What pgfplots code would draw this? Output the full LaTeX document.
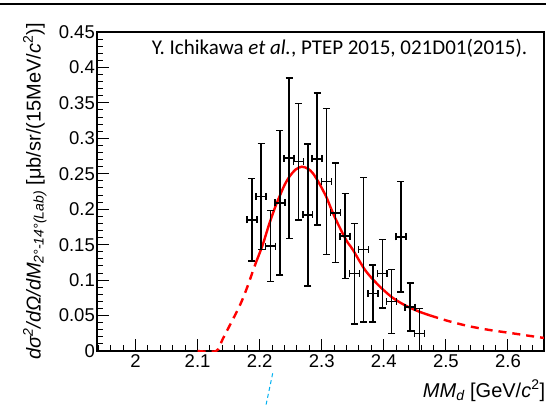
\documentclass[border=0pt]{standalone}
\usepackage{fontspec}
\setmainfont{Liberation Sans}
\newfontfamily\calibri{Carlito}
\usepackage{pgfplots}
\usepackage{pgfplotstable}
\pgfplotsset{compat=1.18}
\pgfplotstableread{
x       y      ex      ey
2.1875  0.185  0.008  0.058
2.2025  0.218  0.008  0.075
2.2175  0.148  0.008  0.050
2.2325  0.209  0.008  0.102
2.2475  0.272  0.008  0.113
2.2625  0.267  0.008  0.082
2.2775  0.192  0.008  0.100
2.2925  0.271  0.008  0.093
2.3075  0.239  0.008  0.103
2.3225  0.195  0.008  0.070
2.3375  0.162  0.008  0.060
2.3525  0.109  0.008  0.071
2.3675  0.143  0.008  0.102
2.3825  0.081  0.008  0.040
2.3975  0.109  0.008  0.048
2.4125  0.070  0.008  0.045
2.4275  0.161  0.008  0.078
2.4425  0.062  0.008  0.034
2.4575  0.025  0.008  0.035
}\datatable
\begin{document}
\begin{tikzpicture}
\path[use as bounding box] (-97pt,-54pt) rectangle (449pt,351pt);
\begin{axis}[
  at={(0,0)}, anchor=south west, scale only axis,
  width=447pt, height=319pt,
  xmin=1.938, xmax=2.658, ymin=0, ymax=0.45,
  axis line style={line width=1.1pt},
  xtick={2,2.1,2.2,2.3,2.4,2.5,2.6},
  xticklabels={2,2.1,2.2,2.3,2.4,2.5,2.6},
  ytick={0,0.05,0.1,0.15,0.2,0.25,0.3,0.35,0.4,0.45},
  yticklabels={0,0.05,0.1,0.15,0.2,0.25,0.3,0.35,0.4,0.45},
  minor xtick={1.94,1.96,1.98,2.02,2.04,2.06,2.08,2.12,2.14,2.16,2.18,2.22,2.24,2.26,2.28,2.32,2.34,2.36,2.38,2.42,2.44,2.46,2.48,2.52,2.54,2.56,2.58,2.62,2.64},
  minor ytick={0.01,0.02,0.03,0.04,0.06,0.07,0.08,0.09,0.11,0.12,0.13,0.14,0.16,0.17,0.18,0.19,0.21,0.22,0.23,0.24,0.26,0.27,0.28,0.29,0.31,0.32,0.33,0.34,0.36,0.37,0.38,0.39,0.41,0.42,0.43,0.44},
  tick align=inside, xtick pos=lower, ytick pos=lower,
  major tick length=12pt, minor tick length=6pt,
  tick style={black, line width=1pt},
  ticklabel style={font=\fontsize{18.5}{20}\selectfont},
  yticklabel style={inner sep=0pt, xshift=-2pt},
  xticklabel style={inner sep=0pt, yshift=-3pt},
  ylabel={{\itshape dσ\textsuperscript{2}/dΩ/dM}\textsubscript{\itshape 2°-14°(Lab)} [μb/sr/(15MeV/{\itshape c}\textsuperscript{2})]},
  ylabel style={at={(axis description cs:-0.139,0.5)}, anchor=center, font=\fontsize{20}{22}\selectfont},
  xlabel={{\itshape MM}\textsubscript{\itshape d} [GeV/{\itshape c}\textsuperscript{2}]},
  xlabel style={at={(axis description cs:1.003,0)}, anchor=base east, yshift=-46pt, inner sep=0pt, font=\fontsize{20}{22}\selectfont},
]
\addplot[red, line width=2.4pt, dash pattern=on 8pt off 6pt, smooth] coordinates {
(2.100,0) (2.130,0) (2.140,0.016) (2.150,0.033) (2.160,0.050) (2.170,0.068) (2.180,0.090) (2.190,0.115) (2.195,0.127)};
\addplot[red, line width=2.4pt, smooth] coordinates {
(2.195,0.127) (2.205,0.150) (2.215,0.178) (2.225,0.203) (2.232,0.218) (2.240,0.234) (2.248,0.246) (2.258,0.256) (2.268,0.260) (2.278,0.257) (2.2855,0.251) (2.295,0.238) (2.307,0.218) (2.315,0.201) (2.323,0.185) (2.339,0.157) (2.350,0.143) (2.370,0.114) (2.390,0.094) (2.410,0.078) (2.425,0.069) (2.440,0.062) (2.457,0.0555) (2.475,0.050)};
\addplot[red, line width=2.4pt, dash pattern=on 8pt off 6pt, smooth] coordinates {
(2.475,0.050) (2.505,0.042) (2.537,0.035) (2.570,0.0297) (2.607,0.025) (2.645,0.020) (2.658,0.0185)};
\addplot+[black, mark=-, mark size=0.5pt, only marks,
  mark options={black, line width=1.5pt},
  error bars/.cd, x dir=both, x explicit, y dir=both, y explicit,
  error bar style={line width=1.5pt, black, solid},
  error mark options={rotate=90, black, line width=1.5pt, mark size=3.5pt}]
  table[x=x, y=y, x error=ex, y error=ey]{\datatable};
\node[anchor=base west, inner sep=0pt, font=\calibri\fontsize{21}{24}\selectfont] at (axis cs:2.026,0.418) {Y. Ichikawa \textit{et al.}, PTEP 2015, 021D01(2015).};
\end{axis}
\draw[line width=1.8pt] (-97pt,347pt) -- (449pt,347pt);
\draw[color={rgb,255:red,0;green,176;blue,240}, line width=1pt, dash pattern=on 4pt off 3pt] (175.7pt,-22.3pt) -- (169pt,-54pt);
\end{tikzpicture}
\end{document}
